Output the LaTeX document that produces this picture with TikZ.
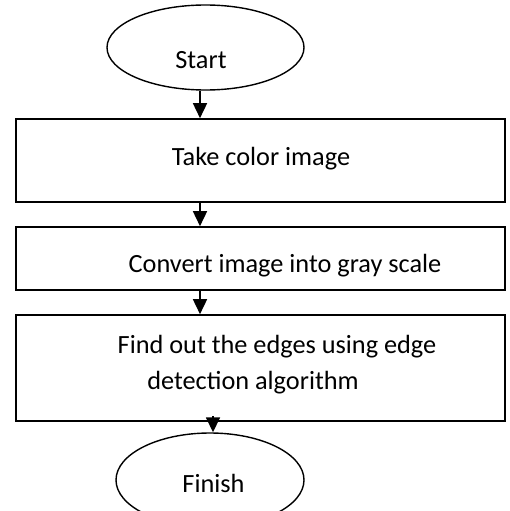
\documentclass[tikz,border=0pt]{standalone}
\usepackage{fontspec}
\setmainfont{Carlito}
\usetikzlibrary{shapes.geometric,arrows.meta}

\tikzset{
  outline/.style={draw=black, line width=1.6pt},
  terminal/.style={draw=black, line width=1.4pt, ellipse, inner sep=0pt},
  process/.style={outline, rectangle, inner sep=0pt},
  txt/.style={anchor=base, inner sep=0pt, font=\fontsize{26.3}{30}\selectfont},
  flow/.style={line width=1.6pt, -{Triangle[width=14pt,length=15pt]}}
}

\begin{document}
\begin{tikzpicture}[x=1pt, y=-1pt]
  \useasboundingbox (0,0) rectangle (509,511);
  \clip (0,0) rectangle (509,511);
  \fill[white] (0,0) rectangle (509,511);

  % terminals
  \node[terminal, minimum width=197pt, minimum height=85pt] (start) at (205.5,47.5) {};
  \node[terminal, minimum width=188pt, minimum height=94pt] (finish) at (210,480) {};

  % process boxes
  \node[process, minimum width=489pt, minimum height=83pt] (take) at (260.5,160.5) {};
  \node[process, minimum width=489pt, minimum height=63pt] (gray) at (260.5,258.5) {};
  \node[process, minimum width=489pt, minimum height=106pt] (edges) at (260.5,368) {};

  % labels
  \node[txt] (tstart) at (201,69) {Start};
  \node[txt] (ttake) at (261,165) {Take color image};
  \node[txt] (tgray) at (285,272) {Convert image into gray scale};
  \node[txt] (tedge1) at (277,353) {Find out the edges using edge};
  \node[txt] (tedge2) at (253,389) {detection algorithm};
  \node[txt] (tfinish) at (213.5,492) {Finish};

  % connectors
  \draw[flow] ([xshift=-5.5pt]start.south) -- ([xshift=-5.5pt]start.south |- take.north);
  \draw[flow] ([xshift=-60.5pt]take.south) -- ([xshift=-60.5pt]gray.north);
  \draw[flow] ([xshift=-60.5pt]gray.south) -- ([xshift=-60.5pt]edges.north);
  \coordinate (e4) at ([xshift=3pt,yshift=6pt]finish.north |- edges.south);
  \draw[flow] (e4) -- ([xshift=3pt]finish.north);
\end{tikzpicture}
\end{document}
